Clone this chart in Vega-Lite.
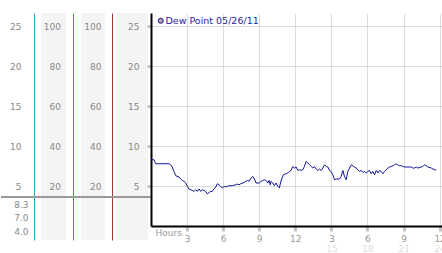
{
 "$schema": "https://vega.github.io/schema/vega-lite/v6.json",
 "padding": {"left": 0, "top": 13, "right": 0, "bottom": 0},
 "background": "white",
 "spacing": 0,
 "bounds": "flush",
 "config": {
  "view": {"stroke": null},
  "axis": {"labelFont": "DejaVu Sans", "labelFontSize": 9, "labelColor": "#888888", "titleFont": "DejaVu Sans", "titleFontSize": 9, "titleColor": "#999999", "titleFontWeight": "normal"}
 },
 "datasets": {
  "one": [{"k": 1}],
  "dew": [
   {"h":0,"v":8.3},{"h":0.25,"v":8.29},{"h":0.39,"v":7.79},{"h":1.5,"v":7.79},{"h":1.64,"v":7.66},{"h":1.77,"v":7.38},{"h":1.91,"v":6.83},{"h":2.06,"v":6.29},{"h":2.33,"v":6.13},{"h":2.47,"v":5.88},{"h":2.61,"v":5.7},{"h":2.75,"v":5.58},{"h":2.89,"v":5.38},{"h":3.02,"v":4.95},{"h":3.16,"v":4.63},{"h":3.44,"v":4.45},{"h":3.58,"v":4.33},{"h":3.72,"v":4.54},{"h":3.85,"v":4.33},{"h":4.0,"v":4.63},{"h":4.14,"v":4.33},{"h":4.27,"v":4.54},{"h":4.41,"v":4.45},{"h":4.55,"v":4.33},{"h":4.69,"v":4.0},{"h":4.83,"v":4.2},{"h":4.97,"v":4.33},{"h":5.1,"v":4.33},{"h":5.24,"v":4.63},{"h":5.39,"v":4.88},{"h":5.52,"v":5.29},{"h":5.66,"v":5.16},{"h":5.8,"v":4.95},{"h":5.93,"v":4.75},{"h":6.08,"v":4.95},{"h":6.22,"v":4.88},{"h":6.49,"v":5.04},{"h":6.77,"v":5.04},{"h":7.05,"v":5.16},{"h":7.18,"v":5.25},{"h":7.32,"v":5.16},{"h":7.47,"v":5.29},{"h":7.74,"v":5.45},{"h":7.88,"v":5.58},{"h":8.02,"v":5.7},{"h":8.16,"v":5.6},{"h":8.32,"v":6.0},{"h":8.47,"v":6.2},{"h":8.6,"v":5.88},{"h":8.74,"v":5.38},{"h":9.01,"v":5.38},{"h":9.16,"v":5.58},{"h":9.3,"v":5.7},{"h":9.43,"v":5.79},{"h":9.57,"v":5.7},{"h":9.71,"v":5.38},{"h":9.82,"v":5.7},{"h":9.91,"v":5.16},{"h":9.99,"v":5.58},{"h":10.13,"v":5.38},{"h":10.26,"v":5.04},{"h":10.4,"v":5.38},{"h":10.55,"v":4.95},{"h":10.68,"v":4.75},{"h":10.76,"v":5.38},{"h":10.9,"v":6.0},{"h":11.01,"v":6.41},{"h":11.24,"v":6.54},{"h":11.38,"v":6.63},{"h":11.51,"v":6.83},{"h":11.65,"v":6.95},{"h":11.79,"v":7.45},{"h":11.93,"v":7.25},{"h":12.07,"v":7.38},{"h":12.21,"v":6.95},{"h":12.34,"v":7.04},{"h":12.49,"v":6.95},{"h":12.63,"v":7.04},{"h":12.76,"v":7.45},{"h":12.9,"v":8.08},{"h":13.04,"v":7.88},{"h":13.18,"v":7.66},{"h":13.32,"v":7.45},{"h":13.46,"v":7.25},{"h":13.59,"v":7.45},{"h":13.73,"v":7.13},{"h":13.88,"v":6.95},{"h":14.01,"v":7.13},{"h":14.15,"v":6.95},{"h":14.29,"v":7.25},{"h":14.43,"v":7.66},{"h":14.57,"v":7.45},{"h":14.71,"v":7.38},{"h":14.84,"v":6.95},{"h":14.98,"v":6.83},{"h":15.12,"v":6.41},{"h":15.26,"v":5.79},{"h":15.4,"v":5.88},{"h":15.67,"v":5.88},{"h":15.81,"v":6.2},{"h":15.96,"v":6.95},{"h":16.09,"v":6.2},{"h":16.23,"v":5.79},{"h":16.37,"v":6.83},{"h":16.51,"v":7.25},{"h":16.65,"v":7.66},{"h":16.79,"v":7.54},{"h":16.92,"v":7.38},{"h":17.06,"v":7.25},{"h":17.21,"v":7.04},{"h":17.34,"v":6.83},{"h":17.48,"v":6.95},{"h":17.62,"v":6.7},{"h":17.75,"v":6.83},{"h":17.9,"v":6.63},{"h":18.04,"v":6.83},{"h":18.17,"v":6.95},{"h":18.31,"v":6.54},{"h":18.45,"v":6.83},{"h":18.59,"v":6.41},{"h":18.73,"v":6.95},{"h":18.87,"v":6.63},{"h":19.0,"v":6.95},{"h":19.14,"v":6.83},{"h":19.29,"v":6.54},{"h":19.42,"v":6.83},{"h":19.56,"v":7.04},{"h":19.7,"v":7.25},{"h":19.84,"v":7.38},{"h":19.98,"v":7.45},{"h":20.12,"v":7.54},{"h":20.25,"v":7.66},{"h":20.39,"v":7.79},{"h":20.53,"v":7.66},{"h":20.67,"v":7.54},{"h":20.81,"v":7.54},{"h":20.95,"v":7.45},{"h":21.08,"v":7.38},{"h":21.37,"v":7.38},{"h":21.64,"v":7.38},{"h":21.78,"v":7.25},{"h":21.92,"v":7.25},{"h":22.06,"v":7.38},{"h":22.2,"v":7.25},{"h":22.47,"v":7.38},{"h":22.61,"v":7.45},{"h":22.75,"v":7.66},{"h":22.89,"v":7.54},{"h":23.03,"v":7.38},{"h":23.31,"v":7.25},{"h":23.45,"v":7.13},{"h":23.58,"v":7.04},{"h":23.72,"v":7.0}
  ]
 },
 "resolve": {"scale": {"color": "independent"}, "legend": {"color": "independent"}},
 "hconcat": [
  {
   "width": 40, "height": 227,
   "data": {"name": "one"},
   "mark": {"type": "rule", "color": "#999999", "strokeWidth": 2},
   "encoding": {"y": {"datum": 3.66, "type": "quantitative", "scale": {"domain": [-1.71, 26.66], "nice": false, "zero": false},
    "axis": {"orient": "left", "offset": -33, "values": [25, 20, 15, 10, 5, 2.725, 1.06, -0.675],
     "labelExpr": "datum.value > 4 ? datum.label : (datum.value > 2 ? '8.3' : (datum.value > 0 ? '7.0' : '4.0'))",
     "labelPadding": {"condition": {"test": "datum.value < 4", "value": 6}, "value": 13},
     "domainColor": "#3a9fbf", "domainWidth": 1, "ticks": false, "grid": false, "title": null}}}
  },
  {
   "width": 25, "height": 227,
   "view": {"fill": "#f4f4f4", "stroke": null},
   "data": {"name": "one"},
   "mark": {"type": "rule", "color": "#999999", "strokeWidth": 2},
   "encoding": {"y": {"datum": 3.66, "type": "quantitative", "scale": {"domain": [-1.71, 26.66], "nice": false, "zero": false},
    "axis": {"orient": "left", "offset": -32, "values": [5, 10, 15, 20, 25], "labelExpr": "datum.value * 4", "domainColor": "#2fa82f", "domainWidth": 1, "ticks": false, "grid": false, "labelPadding": 12.5, "title": null}}}
  },
  {
   "width": 15, "height": 227,
   "data": {"name": "one"},
   "mark": {"type": "rule", "color": "#999999", "strokeWidth": 2},
   "encoding": {"y": {"datum": 3.66, "type": "quantitative", "scale": {"domain": [-1.71, 26.66], "nice": false, "zero": false}, "axis": null}}
  },
  {
   "width": 24, "height": 227,
   "view": {"fill": "#f4f4f4", "stroke": null},
   "data": {"name": "one"},
   "mark": {"type": "rule", "color": "#999999", "strokeWidth": 2},
   "encoding": {"y": {"datum": 3.66, "type": "quantitative", "scale": {"domain": [-1.71, 26.66], "nice": false, "zero": false},
    "axis": {"orient": "left", "offset": -31, "values": [5, 10, 15, 20, 25], "labelExpr": "datum.value * 4", "domainColor": "#a83434", "domainWidth": 1, "ticks": false, "grid": false, "labelPadding": 11, "title": null}}}
  },
  {
   "width": 11, "height": 227,
   "data": {"name": "one"},
   "mark": {"type": "rule", "color": "#999999", "strokeWidth": 2},
   "encoding": {"y": {"datum": 3.66, "type": "quantitative", "scale": {"domain": [-1.71, 26.66], "nice": false, "zero": false}, "axis": null}}
  },
  {
   "width": 32, "height": 227,
   "view": {"fill": "#f4f4f4", "stroke": null},
   "data": {"name": "one"},
   "mark": {"type": "rule", "color": "#999999", "strokeWidth": 2},
   "encoding": {"y": {"datum": 3.66, "type": "quantitative", "scale": {"domain": [-1.71, 26.66], "nice": false, "zero": false}, "axis": null}}
  },
  {
   "width": 3, "height": 227,
   "data": {"name": "one"},
   "mark": {"type": "rule", "color": "#999999", "strokeWidth": 2},
   "encoding": {"y": {"datum": 3.66, "type": "quantitative", "scale": {"domain": [-1.71, 26.66], "nice": false, "zero": false}, "axis": null}}
  },
  {
   "width": 291, "height": 213,
   "data": {"name": "dew"},
   "layer": [
    {
     "mark": {"type": "line", "color": "#14149a", "strokeWidth": 1},
     "encoding": {
      "x": {"field": "h", "type": "quantitative", "scale": {"domain": [0, 24.2], "nice": false, "zero": false},
       "axis": {"orient": "bottom", "values": [3, 6, 9, 12, 15, 18, 21, 24], "labelExpr": "datum.value > 12 ? datum.value - 12 : datum.value", "domainColor": "#000000", "domainWidth": 2, "ticks": true, "tickSize": 5, "tickWidth": 3, "tickColor": "#c4c4c4", "grid": true, "gridColor": "#dcdcdc", "labelBaseline": "alphabetic", "labelPadding": 10.7, "labelColor": "#999999", "labelFlush": false, "labelOverlap": false, "title": "Hours", "titleX": 4, "titleY": 9, "titleAlign": "left", "titleBaseline": "alphabetic"}},
      "y": {"field": "v", "type": "quantitative", "scale": {"domain": [0, 26.65], "nice": false, "zero": false},
       "axis": {"orient": "left", "values": [5, 10, 15, 20, 25], "domainColor": "#000000", "domainWidth": 2, "tickColor": "#c4c4c4", "tickWidth": 3, "tickSize": 4, "labelPadding": 8, "grid": true, "gridColor": "#dcdcdc", "title": null}},
      "color": {"datum": "Dew Point 05/26/11", "type": "nominal", "scale": {"range": ["#14149a"]},
       "legend": {"title": null, "orient": "none", "legendX": 5, "legendY": 3, "padding": 0, "symbolType": "circle", "symbolSize": 25, "labelColor": "#2626a6", "labelFont": "DejaVu Sans", "labelFontSize": 9.5, "labelOffset": 0,
        "encode": {"symbols": {"update": {"fill": {"value": "#aaaaaa"}, "stroke": {"value": "#888888"}, "strokeWidth": {"value": 1}, "opacity": {"value": 1}}}}}}
     }
    },
    {
     "mark": {"type": "line", "strokeOpacity": 0},
     "encoding": {
      "x": {"field": "h", "type": "quantitative",
       "axis": {"orient": "bottom", "values": [15, 18, 21, 24], "domain": false, "ticks": false, "grid": false, "labelBaseline": "alphabetic", "labelPadding": 25, "labelColor": "#dddddd", "labelFlush": false, "labelOverlap": false, "title": null}},
      "y": {"field": "v", "type": "quantitative",
       "axis": {"orient": "left", "values": [5, 10, 15, 20, 25], "domainColor": "#000000", "domainWidth": 2, "tickColor": "#c4c4c4", "tickWidth": 3, "tickSize": 4, "labelPadding": 8, "grid": true, "gridColor": "#dcdcdc", "title": null}}
     }
    }
   ],
   "resolve": {"axis": {"x": "independent"}}
  }
 ]
}
